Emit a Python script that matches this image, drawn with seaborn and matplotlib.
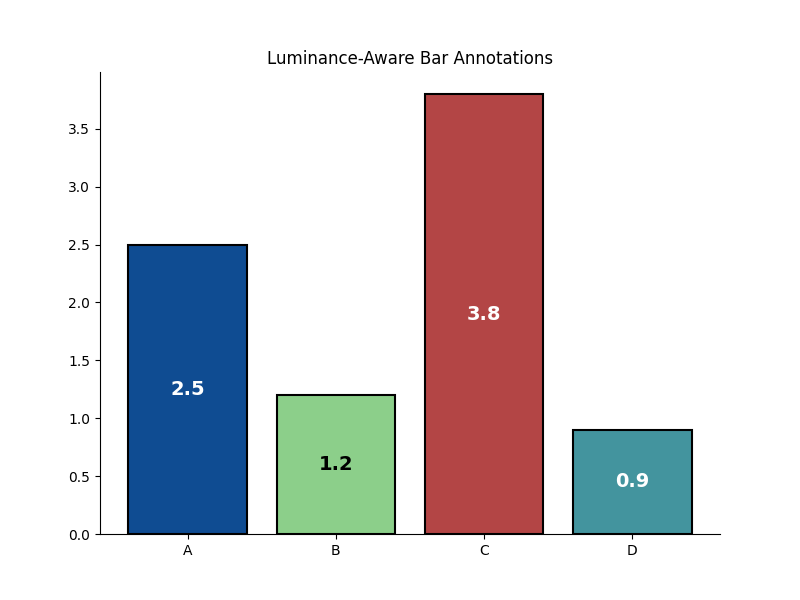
import matplotlib
matplotlib.use("Agg")
import matplotlib.pyplot as plt
import pandas as pd
import seaborn as sns

categories = ["A", "B", "C", "D"]
values = [2.5, 1.2, 3.8, 0.9]
bar_colors = ["#0f4c92", "#8ccf8a", "#b34545", "#43949e"]
label_colors = ["white", "black", "white", "white"]

df = pd.DataFrame({"category": categories, "value": values})

fig, ax = plt.subplots(figsize=(8, 6), dpi=100)
sns.barplot(data=df, x="category", y="value", hue="category",
            palette=bar_colors, edgecolor="black", linewidth=1.5,
            width=0.8, saturation=1, legend=False, ax=ax)

# label each bar in its middle, colour picked by bar luminance
for bar, v, c in zip(ax.patches, values, label_colors):
    ax.text(bar.get_x() + bar.get_width() / 2, v / 2, f"{v}",
            ha="center", va="center", color=c, fontsize=14, fontweight="bold")

ax.set_xlim(-0.59, 3.59)
ax.set_ylim(0, 3.99)
ax.set_xlabel("")
ax.set_ylabel("")
ax.set_title("Luminance-Aware Bar Annotations")
sns.despine(ax=ax)

fig.savefig("out.png", dpi=100)
